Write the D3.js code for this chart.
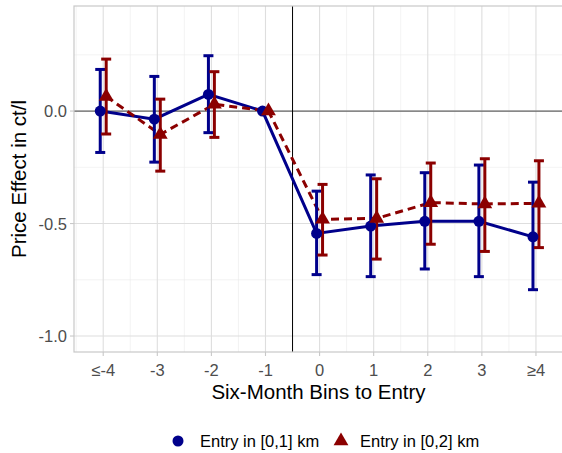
<!DOCTYPE html>
<html lang="en">
<head>
<meta charset="utf-8">
<script src="https://d3js.org/d3.v7.min.js"></script>
<style>
  body { margin: 0; background: #fff; }
  text { font-family: "Liberation Sans", Arial, sans-serif; }
</style>
</head>
<body>
<script>
// bins and labels
var bins = [-4, -3, -2, -1, 0, 1, 2, 3, 4];
var binLabels = ["\u2264-4", "-3", "-2", "-1", "0", "1", "2", "3", "\u22654"];
var yTicks = [0, -0.5, -1.0];

// Entry in [0,1] km
var est1 = [0, -0.036, 0.074, 0, -0.544, -0.511, -0.49, -0.49, -0.559];
var lo1  = [-0.184, -0.227, -0.096, null, -0.727, -0.736, -0.702, -0.736, -0.794];
var hi1  = [0.185, 0.154, 0.246, null, -0.356, -0.284, -0.274, -0.24, -0.316];

// Entry in [0,2] km
var est2 = [0.065, -0.104, 0.03, 0, -0.481, -0.477, -0.407, -0.413, -0.41];
var lo2  = [-0.102, -0.267, -0.117, null, -0.64, -0.658, -0.592, -0.624, -0.607];
var hi2  = [0.231, 0.053, 0.175, null, -0.326, -0.301, -0.231, -0.212, -0.221];

var W = 562, H = 453;
var svg = d3.select("body").append("svg").attr("width", W).attr("height", H);

var pL = 74, pR = 563, pT = 6, pB = 352;
var x = d3.scaleLinear().domain([-4.54, 4.5]).range([pL, pR]);
var y = d3.scaleLinear().domain([0.467, -1.071]).range([pT, pB]);
var dodge = 0.055;

// grid
var g = svg.append("g");
d3.range(-4.5, 4.6, 1).forEach(function (v) {
  g.append("line").attr("x1", x(v)).attr("x2", x(v)).attr("y1", pT).attr("y2", pB)
    .attr("stroke", "#ebebeb").attr("stroke-width", 0.6);
});
[0.25, -0.25, -0.75].forEach(function (v) {
  g.append("line").attr("x1", pL).attr("x2", pR).attr("y1", y(v)).attr("y2", y(v))
    .attr("stroke", "#ebebeb").attr("stroke-width", 0.6);
});
bins.forEach(function (v) {
  g.append("line").attr("x1", x(v)).attr("x2", x(v)).attr("y1", pT).attr("y2", pB)
    .attr("stroke", "#dedede").attr("stroke-width", 1.1);
});
yTicks.forEach(function (v) {
  g.append("line").attr("x1", pL).attr("x2", pR).attr("y1", y(v)).attr("y2", y(v))
    .attr("stroke", "#dedede").attr("stroke-width", 1.1);
});

// reference lines
svg.append("line").attr("x1", pL).attr("x2", pR).attr("y1", y(0)).attr("y2", y(0))
  .attr("stroke", "#666").attr("stroke-width", 1.2);
svg.append("line").attr("x1", x(-0.5)).attr("x2", x(-0.5)).attr("y1", pT).attr("y2", pB)
  .attr("stroke", "#000").attr("stroke-width", 1);

// panel border
svg.append("rect").attr("x", pL).attr("y", pT).attr("width", pR - pL).attr("height", pB - pT)
  .attr("fill", "none").attr("stroke", "#c8c8c8").attr("stroke-width", 1.2);

// axis ticks and labels
bins.forEach(function (v, i) {
  svg.append("line").attr("x1", x(v)).attr("x2", x(v)).attr("y1", pB).attr("y2", pB + 4)
    .attr("stroke", "#c8c8c8").attr("stroke-width", 1.1);
  svg.append("text").attr("x", x(v)).attr("y", pB + 24).attr("text-anchor", "middle")
    .attr("font-size", 16.5).attr("fill", "#4d4d4d").text(binLabels[i]);
});
yTicks.forEach(function (v) {
  svg.append("line").attr("x1", pL - 4).attr("x2", pL).attr("y1", y(v)).attr("y2", y(v))
    .attr("stroke", "#c8c8c8").attr("stroke-width", 1.1);
  svg.append("text").attr("x", pL - 7).attr("y", y(v) + 6).attr("text-anchor", "end")
    .attr("font-size", 16.5).attr("fill", "#4d4d4d").text(d3.format(".1f")(v).replace("\u2212", "-"));
});

svg.append("text").attr("x", (pL + pR) / 2).attr("y", 399).attr("text-anchor", "middle")
  .attr("font-size", 20.5).attr("fill", "#000").text("Six-Month Bins to Entry");
svg.append("text").attr("transform", "translate(26," + ((pT + pB) / 2) + ") rotate(-90)")
  .attr("text-anchor", "middle").attr("font-size", 20.5).attr("fill", "#000").text("Price Effect in ct/l");

// series
var series = [
  { est: est1, lo: lo1, hi: hi1, col: "#00008b", off: -dodge, dash: null, shape: "circle" },
  { est: est2, lo: lo2, hi: hi2, col: "#8b0000", off: dodge, dash: "8,5", shape: "triangle" }
];

series.forEach(function (s) {
  var line = d3.line().x(function (d, i) { return x(bins[i] + s.off); }).y(function (d) { return y(d); });
  svg.append("path").datum(s.est).attr("d", line).attr("fill", "none")
    .attr("stroke", s.col).attr("stroke-width", 3).attr("stroke-dasharray", s.dash);
});

series.forEach(function (s) {
  bins.forEach(function (b, i) {
    if (s.lo[i] === null) return;
    var cx = x(b + s.off);
    svg.append("line").attr("x1", cx).attr("x2", cx).attr("y1", y(s.hi[i])).attr("y2", y(s.lo[i]))
      .attr("stroke", s.col).attr("stroke-width", 3);
    [s.hi[i], s.lo[i]].forEach(function (v) {
      svg.append("line").attr("x1", cx - 5).attr("x2", cx + 5).attr("y1", y(v)).attr("y2", y(v))
        .attr("stroke", s.col).attr("stroke-width", 3);
    });
  });
});

var sym = {
  circle: d3.symbol().type(d3.symbolCircle).size(95),
  triangle: d3.symbol().type(d3.symbolTriangle).size(95)
};
series.forEach(function (s) {
  s.est.forEach(function (v, i) {
    svg.append("path").attr("d", sym[s.shape]())
      .attr("transform", "translate(" + x(bins[i] + s.off) + "," + y(v) + ")")
      .attr("fill", s.col);
  });
});

// legend
var leg = [
  { label: "Entry in [0,1] km", col: "#00008b", shape: "circle", sx: 178, tx: 200 },
  { label: "Entry in [0,2] km", col: "#8b0000", shape: "triangle", sx: 341, tx: 360 }
];
leg.forEach(function (l) {
  svg.append("path").attr("d", sym[l.shape]()).attr("transform", "translate(" + l.sx + ",441)")
    .attr("fill", l.col);
  svg.append("text").attr("x", l.tx).attr("y", 447).attr("font-size", 16.5).attr("fill", "#000").text(l.label);
});
</script>
</body>
</html>
